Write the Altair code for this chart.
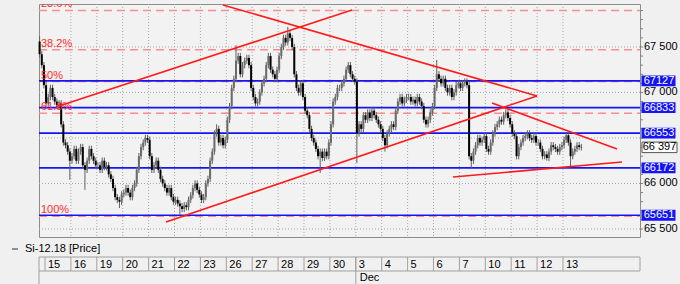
import altair as alt
import pandas as pd

# ---------------- data ----------------
DAY_LABELS = ["15", "16", "19", "20", "21", "22", "23", "26", "27", "28", "29", "30",
              "3", "4", "5", "6", "7", "10", "11", "12", "13"]
MONTH_LABEL = "Dec"
MONTH_START_DAY = 12          # index of "3" (Dec 3)
CANDLES_PER_DAY = 12

PRE_OPEN = 67560                        # first visible candle (tail of the 14th)
PRE_CLOSES = [67420, 67300, 67080]
DAY_CLOSES = [
    [66880, 66950, 67050, 66950, 66900, 66860, 66880, 66650, 66450, 66420, 66350, 66250],  # 15
    [66300, 66380, 66250, 66350, 66400, 66200, 66150, 66250, 66380, 66300, 66250, 66200],  # 16
    [66200, 66150, 66250, 66180, 66200, 66100, 66050, 65950, 65850, 65820, 65800, 65880],  # 19
    [65900, 65950, 65900, 65850, 65950, 66000, 66150, 66300, 66400, 66450, 66500, 66480],  # 20
    [66300, 66150, 66200, 66250, 66150, 66050, 66000, 65950, 65900, 65950, 65850, 65800],  # 21
    [65820, 65780, 65750, 65720, 65760, 65740, 65820, 65870, 65950, 66000, 65930, 65880],  # 22
    [65820, 65850, 66000, 66050, 66250, 66350, 66550, 66600, 66450, 66500, 66420, 66480],  # 23
    [66700, 66850, 67050, 67150, 67350, 67400, 67200, 67300, 67350, 67380, 67300, 67050],  # 26
    [66950, 66880, 66900, 67000, 67100, 67150, 67300, 67400, 67250, 67200, 67150, 67250],  # 27
    [67400, 67500, 67600, 67550, 67650, 67600, 67500, 67200, 67050, 67000, 67100, 66950],  # 28
    [66800, 66750, 66600, 66500, 66450, 66380, 66300, 66350, 66280, 66350, 66300, 66450],  # 29
    [66650, 66900, 66950, 67050, 67050, 67100, 67150, 67250, 67300, 67200, 67150, 67120],  # 30
    [66550, 66650, 66600, 66750, 66700, 66780, 66720, 66800, 66750, 66700, 66650, 66600],  # 3
    [66500, 66420, 66550, 66600, 66650, 66620, 66800, 66900, 66950, 66880, 66920, 66950],  # 4
    [66950, 66900, 66920, 66880, 66950, 66900, 66850, 66700, 66650, 66700, 66780, 66850],  # 5
    [67050, 67200, 67150, 67100, 67150, 67050, 67000, 67050, 66950, 67000, 67080, 67100],  # 6
    [67050, 67100, 67120, 67080, 66300, 66250, 66350, 66420, 66500, 66450, 66480, 66520],  # 7
    [66380, 66350, 66450, 66550, 66620, 66650, 66700, 66680, 66750, 66780, 66720, 66650],  # 10
    [66550, 66520, 66300, 66400, 66450, 66500, 66520, 66550, 66500, 66480, 66520, 66450],  # 11
    [66450, 66380, 66300, 66320, 66280, 66350, 66420, 66400, 66380, 66350, 66400, 66420],  # 12
    [66480, 66530, 66450, 66300, 66350, 66380, 66420, 66400, 66397],                       # 13
]
HIGH_MARKS = {(-1, 9): 67620, (6, 7): 66650, (7, 4): 67520, (9, 4): 67720,
              (11, 8): 67335, (15, 1): 67357}
LOW_MARKS = {(0, 11): 66040, (1, 6): 65930, (2, 10): 65730, (5, 2): 65655,
             (10, 7): 66115, (12, 0): 66225, (13, 1): 66350, (16, 5): 66170,
             (19, 4): 66250, (20, 3): 66180}
WICK = 35

FIB_HIGH = 68600
FIB_LOW = 65640
FIB_RATIOS = [0.236, 0.382, 0.5, 0.618, 1.0]
FIB_TEXT = ["23.6%", "38.2%", "50%", "61.8%", "100%"]

LEVELS = [67127, 66833, 66553, 66172, 65651]
LAST_PRICE = 66397
LAST_TEXT = "66 397"

GRID_PRICES = [65500, 66000, 66500, 67000, 67500]
AXIS_TICKS = list(range(65500, 67901, 100))
AXIS_LABEL_PRICES = [65500, 66000, 67000, 67500]
AXIS_LABELS = ["65 500", "66 000", "67 000", "67 500"]

TREND_T1 = [0.425, 6.873, 4.672, 17.259, 15.753]
TREND_P1 = [66841, 67962, 65577, 66885, 66071]
TREND_T2 = [11.853, 18.996, 18.996, 22.085, 22.278]
TREND_P2 = [67907, 66962, 66962, 66379, 66236]

LEGEND_TEXT = "Si-12.18 [Price]"

# ---------------- tables ----------------
seq = [(-1, 9 + i, c) for i, c in enumerate(PRE_CLOSES)]
for d, closes in enumerate(DAY_CLOSES):
    for k, c in enumerate(closes):
        seq.append((d, k, c))
rows = []
prev = PRE_OPEN
for d, k, c in seq:
    o = prev
    hi = HIGH_MARKS.get((d, k), max(o, c) + WICK)
    lo = LOW_MARKS.get((d, k), min(o, c) - WICK)
    rows.append(dict(t=d + (k + 0.5) / CANDLES_PER_DAY, o=o, c=c, hi=hi, lo=lo,
                     dir="up" if c >= o else "down"))
    prev = c
candles = pd.DataFrame(rows)

fib = pd.DataFrame({"p": [FIB_HIGH - r * (FIB_HIGH - FIB_LOW) for r in FIB_RATIOS],
                    "label": FIB_TEXT})
levels = pd.DataFrame({"p": LEVELS, "label": [str(v) for v in LEVELS]})
last = pd.DataFrame({"p": [LAST_PRICE], "label": [LAST_TEXT]})
grid_h = pd.DataFrame({"p": GRID_PRICES})
grid_v = pd.DataFrame({"t": list(range(1, len(DAY_LABELS)))})
ticks = pd.DataFrame({"p": AXIS_TICKS})
axis_lab = pd.DataFrame({"p": AXIS_LABEL_PRICES, "label": AXIS_LABELS})
days = pd.DataFrame({"t": list(range(len(DAY_LABELS))), "label": DAY_LABELS})
month = pd.DataFrame({"t": [MONTH_START_DAY], "label": [MONTH_LABEL]})
trends = pd.DataFrame({"t1": TREND_T1, "p1": TREND_P1, "t2": TREND_T2, "p2": TREND_P2})
one = pd.DataFrame({"a": [0]})
legend = pd.DataFrame({"label": [LEGEND_TEXT]})

# ---------------- chart ----------------
W, H = 601, 233
FONT = "Liberation Sans"
xs = alt.Scale(domain=[-0.2317, 22.973], nice=False, zero=False)
ys = alt.Scale(domain=[65412, 67972], nice=False, zero=False)


def X(f):
    return alt.X(f, type="quantitative", scale=xs, axis=None)


def Y(f):
    return alt.Y(f, type="quantitative", scale=ys, axis=None)


GRID = "#a8a8a8"

hgrid = alt.Chart(grid_h).mark_rule(color=GRID, strokeDash=[1, 2], strokeWidth=1).encode(
    y=Y("p"), x=alt.value(0), x2=alt.value(W))
vgrid = alt.Chart(grid_v).mark_rule(color=GRID, strokeDash=[1, 2], strokeWidth=1).encode(
    x=X("t"), y=alt.value(0), y2=alt.value(H))

fib_lines = alt.Chart(fib).mark_rule(color="#ff8c8c", strokeDash=[8, 5], strokeWidth=1.5).encode(
    y=Y("p"), x=alt.value(0), x2=alt.value(W))
blue_lines = alt.Chart(levels).mark_rule(color="#1414f5", strokeWidth=1.6).encode(
    y=Y("p"), x=alt.value(0), x2=alt.value(W))

wicks = alt.Chart(candles).mark_rule(color="#606060", strokeWidth=1).encode(
    x=X("t"), y=Y("lo"), y2="hi")
bodies = alt.Chart(candles).mark_rule(strokeWidth=2).encode(
    x=X("t"), y=Y("o"), y2="c",
    color=alt.Color("dir:N", scale=alt.Scale(domain=["up", "down"], range=["#6a6a6a", "#000000"]),
                    legend=None))

trend = alt.Chart(trends).mark_rule(color="#ff1a1a", strokeWidth=1.6).encode(
    x=X("t1"), x2="t2", y=Y("p1"), y2="p2")

fib_text = alt.Chart(fib).mark_text(align="left", baseline="bottom", dy=-1, fontSize=11,
                                    color="#ff2a2a", font=FONT, clip=True).encode(
    x=alt.value(2), y=Y("p"), text="label")

tick_marks = alt.Chart(ticks).mark_rule(color="#808080", strokeWidth=1).encode(
    y=Y("p"), x=alt.value(W), x2=alt.value(W + 3))
tick_text = alt.Chart(axis_lab).mark_text(align="left", baseline="middle", fontSize=11,
                                          font=FONT, color="black").encode(
    x=alt.value(W + 4), y=Y("p"), text="label")

tag_box = alt.Chart(levels).mark_point(shape="M-1,-0.32L1,-0.32L1,0.32L-1,0.32Z", size=1156,
                                       filled=True, color="#1414f5", opacity=1).encode(
    x=alt.value(619.5), y=Y("p"))
tag_text = alt.Chart(levels).mark_text(color="white", fontSize=11, font=FONT, align="center",
                                       baseline="middle").encode(
    x=alt.value(620), y=Y("p"), text="label")
last_box = alt.Chart(last).mark_point(shape="M-1,-0.3L1,-0.3L1,0.3L-1,0.3Z", size=1225,
                                      filled=True, fill="white", stroke="#555555",
                                      strokeWidth=1, opacity=1).encode(
    x=alt.value(620.5), y=Y("p"))
last_text = alt.Chart(last).mark_text(color="black", fontSize=11, font=FONT, align="center",
                                      baseline="middle").encode(
    x=alt.value(620.5), y=Y("p"), text="label")

BOX = "#a0a0a0"
date_top = alt.Chart(one).mark_rule(color=BOX).encode(x=alt.value(0), x2=alt.value(W), y=alt.value(253))
date_mid = alt.Chart(one).mark_rule(color=BOX).encode(x=alt.value(0), x2=alt.value(W), y=alt.value(267))
date_left = alt.Chart(one).mark_rule(color=BOX).encode(x=alt.value(0), y=alt.value(253), y2=alt.value(284))
date_right = alt.Chart(one).mark_rule(color=BOX).encode(x=alt.value(W), y=alt.value(253), y2=alt.value(267))
date_seps = alt.Chart(days).mark_rule(color=BOX).encode(x=X("t"), y=alt.value(253), y2=alt.value(267))
date_text = alt.Chart(days).mark_text(align="left", baseline="middle", dx=3, fontSize=11,
                                      font=FONT, color="black").encode(
    x=X("t"), y=alt.value(260.5), text="label")
month_sep = alt.Chart(month).mark_rule(color=BOX).encode(x=X("t"), y=alt.value(253), y2=alt.value(284))
month_text = alt.Chart(month).mark_text(align="left", baseline="middle", dx=4, fontSize=11,
                                        font=FONT, color="black").encode(
    x=X("t"), y=alt.value(273.5), text="label")

legend_line = alt.Chart(one).mark_rule(color="#505050", strokeWidth=1.2).encode(
    x=alt.value(-27), x2=alt.value(-21), y=alt.value(245))
legend_text = alt.Chart(legend).mark_text(align="left", baseline="middle", fontSize=11,
                                          font=FONT, color="black").encode(
    x=alt.value(-14), y=alt.value(245), text="label")

chart = alt.layer(
    hgrid, vgrid, fib_lines, blue_lines, wicks, bodies, trend, fib_text,
    tick_marks, tick_text, tag_box, tag_text, last_box, last_text,
    date_top, date_mid, date_left, date_right, date_seps, date_text, month_sep, month_text,
    legend_line, legend_text,
).properties(
    width=W, height=H,
    padding={"left": 39, "top": 4, "right": 40, "bottom": 47},
    autosize=alt.AutoSizeParams(type="none"),
).configure(background="#f0f0f0").configure_view(stroke="#8c8c8c", strokeWidth=1, fill="#f2f2f2")

chart.save("out.html", embed_options={"renderer": "svg", "actions": False})
